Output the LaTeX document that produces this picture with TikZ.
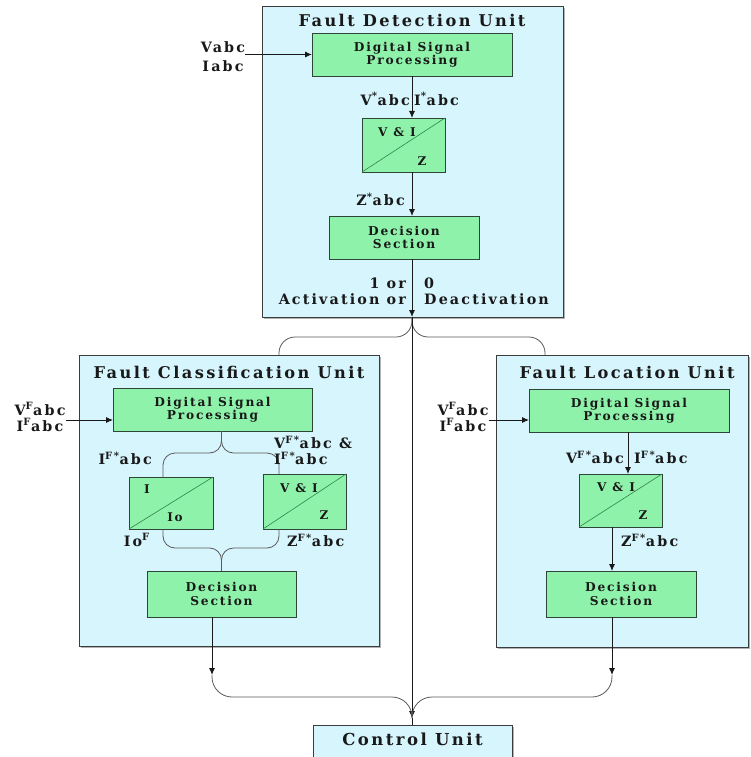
\documentclass[tikz,border=0pt]{standalone}
\usepackage{fontspec}
\setmainfont{DejaVu Serif}[LetterSpace=15]
\usetikzlibrary{arrows.meta,shadows}

\definecolor{unitfill}{RGB}{214,245,253}
\definecolor{procfill}{RGB}{142,242,170}
\definecolor{procedge}{RGB}{45,70,55}
\definecolor{unitedge}{RGB}{60,60,60}
\definecolor{diagcol}{RGB}{50,130,75}
\definecolor{inkcol}{RGB}{25,25,25}

\newcommand\ttlfont{\fontsize{16.2}{18}\selectfont\bfseries}
\newcommand\boxfont{\fontsize{12.2}{13.5}\selectfont\bfseries}
\newcommand\lblfont{\fontsize{14.3}{16}\selectfont\bfseries}
\newcommand\ctrlfont{\fontsize{16.5}{18}\selectfont\bfseries}
\newcommand\cellfont{\fontsize{12}{13}\selectfont\bfseries}

\tikzset{
  unit/.style={draw=unitedge, line width=1pt, fill=unitfill, inner sep=0pt, outer sep=0pt,
    drop shadow={shadow xshift=1.5pt, shadow yshift=-1.5pt, fill=black!30, opacity=1}},
  proc/.style={draw=procedge, line width=0.9pt, fill=procfill, inner sep=0pt, outer sep=0pt,
    font=\boxfont, align=center, text=inkcol},
  ttl/.style={font=\ttlfont, text=inkcol, inner sep=0pt},
  lbl/.style={font=\lblfont, text=inkcol, inner sep=0pt, align=center},
  cell/.style={font=\cellfont, text=inkcol, inner sep=0pt},
  arr/.style={draw=inkcol, line width=0.9pt, -{Latex[length=7pt,width=6pt]}},
  wire/.style={draw=inkcol, line width=0.9pt},
  brace/.style={draw=black!65, line width=0.8pt},
  diag/.style={draw=diagcol, line width=0.6pt}
}

\begin{document}
\begin{tikzpicture}[x=1pt,y=-1pt]
\useasboundingbox (0,0) rectangle (750,757);
\clip (0,0) rectangle (750,757);

% ---- unit frames ----
\node[unit, minimum width=301pt, minimum height=310pt] (fdu) at (412.5,162) {};
\node[unit, minimum width=300pt, minimum height=291pt] (fcu) at (229,500.5) {};
\node[unit, minimum width=252pt, minimum height=292pt] (flu) at (622,501) {};
\node[unit, minimum width=199pt, minimum height=45pt] (ctrl) at (412.5,747.5) {};

\node[ttl] (fdut) at (412,20) {Fault Detection Unit};
\node[ttl] (fcut) at (229,372) {Fault Classification Unit};
\node[ttl] (flut) at (627,372) {Fault Location Unit};
\node[ttl, font=\ctrlfont] (ctrlt) at (412.5,739) {Control Unit};

% ---- detection unit blocks ----
\node[proc, minimum width=200pt, minimum height=43pt] (dsp1) at (412,54.5) {Digital Signal\\Processing};
\node[proc, minimum width=83pt, minimum height=54pt] (vi1) at (403.5,145) {};
\node[proc, minimum width=150pt, minimum height=43pt] (dec1) at (404,237.5) {Decision\\Section};

% ---- classification unit blocks ----
\node[proc, minimum width=199pt, minimum height=43pt] (dsp2) at (212.5,409.5) {Digital Signal\\Processing};
\node[proc, minimum width=84pt, minimum height=52pt] (ibox) at (171,503) {};
\node[proc, minimum width=83pt, minimum height=55pt] (vi2) at (304.5,501.5) {};
\node[proc, minimum width=149pt, minimum height=46pt] (dec2) at (221.5,594) {Decision\\Section};

% ---- location unit blocks ----
\node[proc, minimum width=200pt, minimum height=43pt] (dsp3) at (629,410.5) {Digital Signal\\Processing};
\node[proc, minimum width=83pt, minimum height=53pt] (vi3) at (620.5,500.5) {};
\node[proc, minimum width=150pt, minimum height=46pt] (dec3) at (621,594) {Decision\\Section};

% converter diagonals and their cell texts
\draw[diag] (vi1.south west) -- (vi1.north east);
\draw[diag] (ibox.south west) -- (ibox.north east);
\draw[diag] (vi2.south west) -- (vi2.north east);
\draw[diag] (vi3.south west) -- (vi3.north east);
\node[cell] (vi1a) at (397,132) {V \& I};
\node[cell] (vi1b) at (422,161) {Z};
\node[cell] (iba) at (147,489) {I};
\node[cell] (ibb) at (175,517) {Io};
\node[cell] (vi2a) at (299,488) {V \& I};
\node[cell] (vi2b) at (324,515) {Z};
\node[cell] (vi3a) at (616,487) {V \& I};
\node[cell] (vi3b) at (643,515) {Z};

% ---- helper coordinates ----
\coordinate (hub) at (fdu.south -| dsp1.south);
\coordinate (join) at (412,718);
\coordinate (bar1) at (0,337);
\coordinate (bar2) at (0,453);
\coordinate (bar3) at (0,548);
\coordinate (lowbar) at (0,675);
\coordinate (bar4) at (0,697);
\coordinate (fcuin) at ([xshift=50pt]fcu.north);
\coordinate (fluin) at ([xshift=-77pt]flu.north);

% ---- detection unit signal path ----
\node[lbl] (in1) at (223,57) {Vabc\\[3pt]Iabc};
\draw[arr] (in1.east |- dsp1.west) -- (dsp1.west);
\draw[arr] (dsp1.south) -- (vi1.north -| dsp1.south);
\draw[arr] (vi1.south -| dsp1.south) -- (dec1.north -| dsp1.south);
\draw[arr] (dec1.south -| dsp1.south) -- (hub);
\node[lbl, anchor=east] (l1a) at (410,99) {V\textsuperscript{*}abc};
\node[lbl, anchor=west] (l1b) at (414,99) {I\textsuperscript{*}abc};
\node[lbl, anchor=east] (l1c) at (405,199) {Z\textsuperscript{*}abc};
\node[lbl, anchor=east, align=right] (l1d) at (406,291) {1 or\\Activation or};
\node[lbl, anchor=west, align=left] (l1e) at (424,291) {0\\Deactivation};

% branches towards classification and location units
\draw[brace, rounded corners=16pt] (hub) |- (fcuin |- bar1) -- (fcuin);
\draw[brace, rounded corners=16pt] (hub) |- (fluin |- bar1) -- (fluin);

% main line to the control unit
\draw[arr] (hub) -- (join);
\draw[wire] (join) -- (ctrl.north -| join);

% ---- classification unit signal path ----
\node[lbl] (in2) at (40,417) {V\textsuperscript{F}abc\\I\textsuperscript{F}abc};
\coordinate (in2p) at ([yshift=-10.5pt]dsp2.west);
\draw[arr] (in2.east |- in2p) -- (in2p);
\coordinate (t2) at (dsp2.south -| dec2.north);
\coordinate (ib2) at ([xshift=-8pt]ibox.north);
\coordinate (vb2) at ([xshift=-25.5pt]vi2.north);
\draw[brace, rounded corners=12pt] (t2) |- (ib2 |- bar2) -- (ib2);
\draw[brace, rounded corners=12pt] (t2) |- (vb2 |- bar2) -- (vb2);
\draw[brace, rounded corners=12pt] (ib2 |- ibox.south) |- (dec2.north |- bar3) -- (dec2.north);
\draw[brace, rounded corners=12pt] (vb2 |- vi2.south) |- (dec2.north |- bar3) -- (dec2.north);
\node[lbl, anchor=east] (l2a) at (152,458) {I\textsuperscript{F*}abc};
\node[lbl, anchor=west, align=left] (l2b) at (274,450) {V\textsuperscript{F*}abc \&\\I\textsuperscript{F*}abc};
\node[lbl, anchor=east] (l2c) at (150,540) {Io\textsuperscript{F}};
\node[lbl, anchor=west] (l2d) at (287,540) {Z\textsuperscript{F*}abc};
\coordinate (o2) at ([xshift=-9.5pt]dec2.south);
\draw[arr] (o2) -- (o2 |- lowbar);
\draw[brace, rounded corners=20pt] (o2 |- lowbar) |- (join |- bar4) -- (join);

% ---- location unit signal path ----
\node[lbl] (in3) at (463,417) {V\textsuperscript{F}abc\\I\textsuperscript{F}abc};
\coordinate (in3p) at ([yshift=-9.5pt]dsp3.west);
\draw[arr] (in3.east |- in3p) -- (in3p);
\coordinate (d3s) at ([xshift=-1pt]dsp3.south);
\draw[arr] (d3s) -- (vi3.north -| d3s);
\coordinate (v3s) at ([xshift=-8.5pt]vi3.south);
\draw[arr] (v3s) -- (dec3.north -| v3s);
\node[lbl, anchor=east] (l3a) at (624,457) {V\textsuperscript{F*}abc};
\node[lbl, anchor=west] (l3b) at (634,457) {I\textsuperscript{F*}abc};
\node[lbl, anchor=west] (l3c) at (621,540) {Z\textsuperscript{F*}abc};
\coordinate (o3) at ([xshift=-9pt]dec3.south);
\draw[arr] (o3) -- (o3 |- lowbar);
\draw[brace, rounded corners=20pt] (o3 |- lowbar) |- (join |- bar4) -- (join);
\end{tikzpicture}
\end{document}
